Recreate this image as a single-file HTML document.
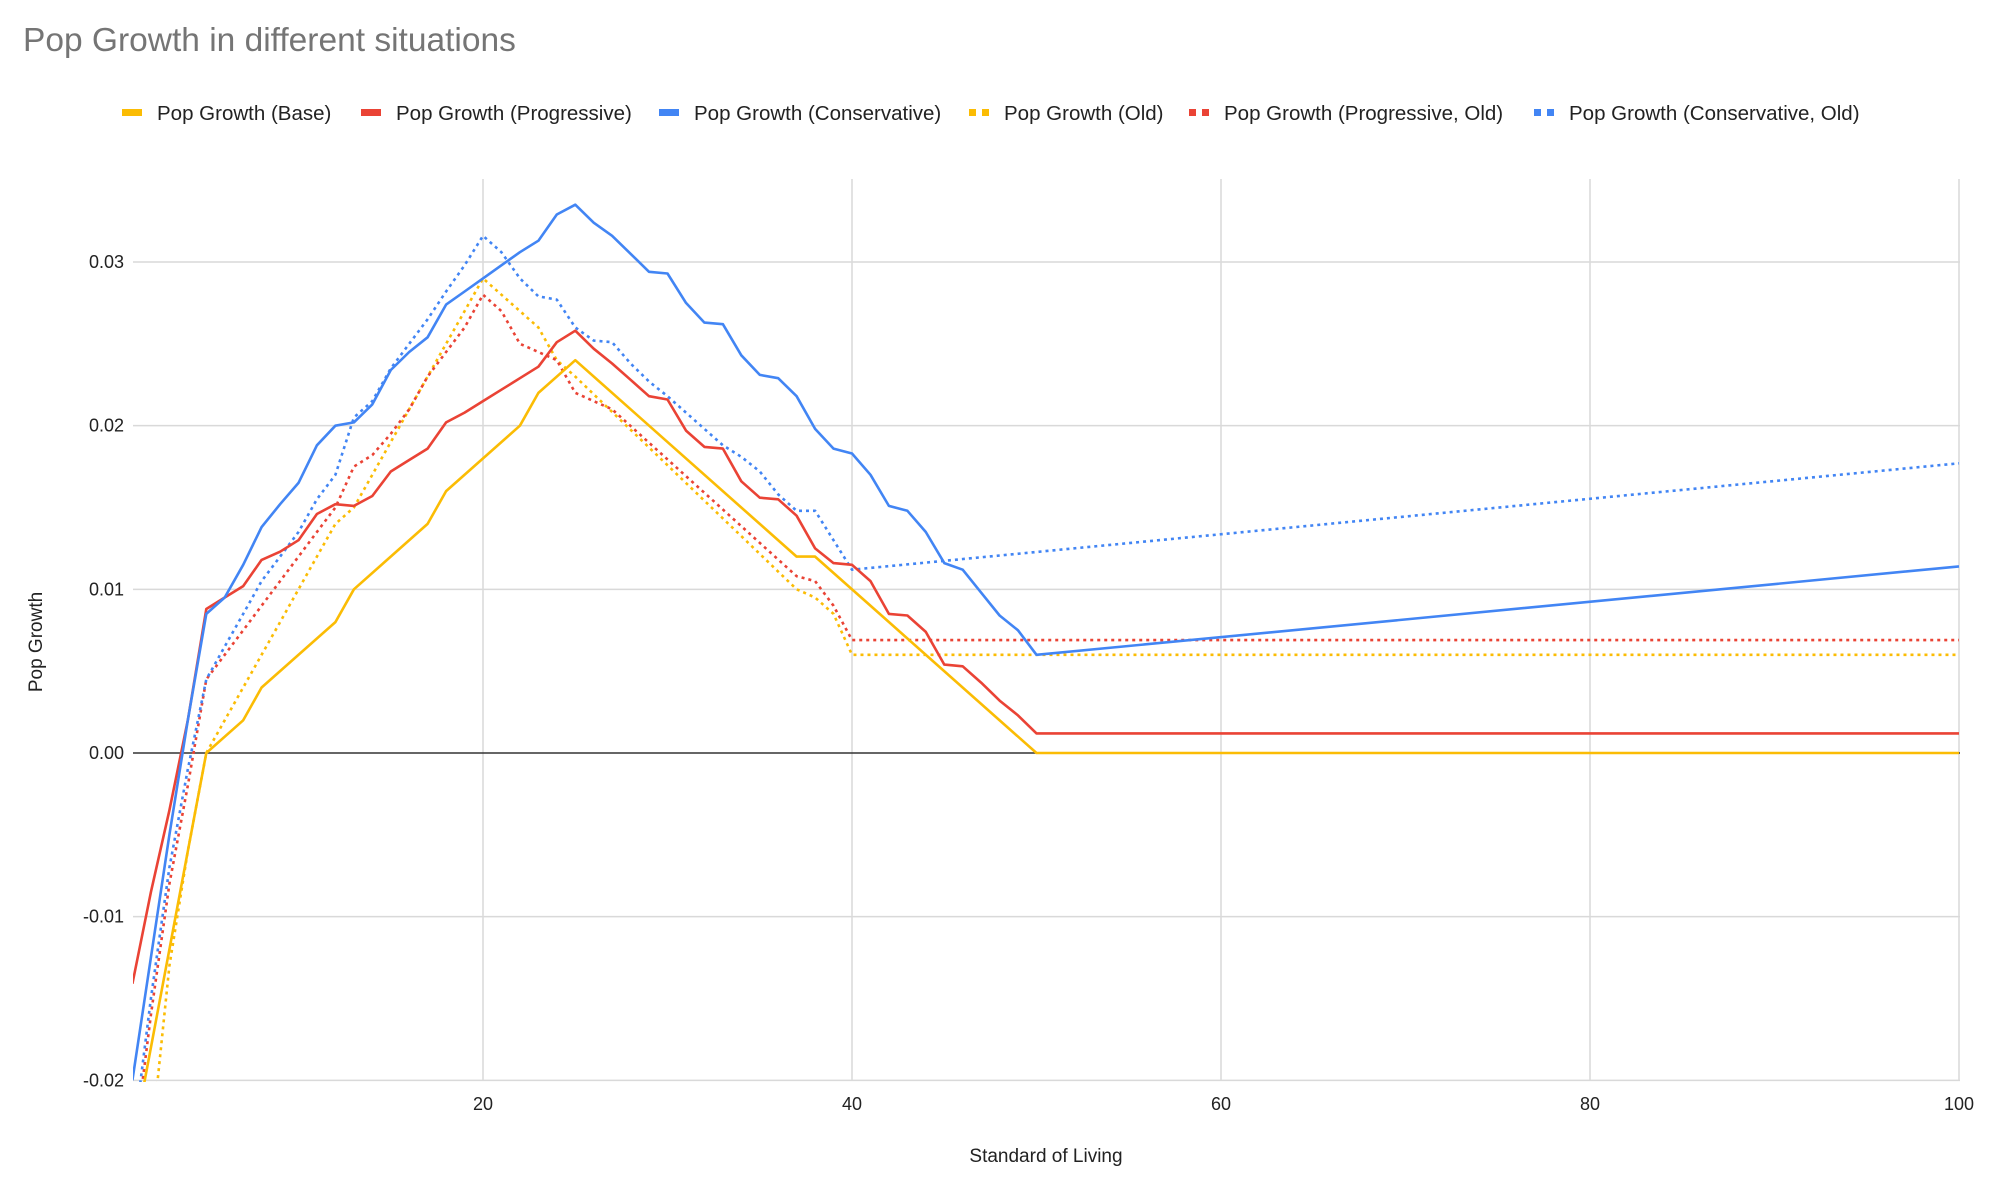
<!DOCTYPE html>
<html><head><meta charset="utf-8"><style>
html,body{margin:0;background:#fff;overflow:hidden;width:1999px;height:1178px;}
svg{display:block;font-family:"Liberation Sans",Arial,sans-serif;}
</style></head><body>
<svg id="chart" width="1999" height="1178" viewBox="0 0 1999 1178">
<rect width="1999" height="1178" fill="#fff"/>
<text x="23" y="51" font-size="33.5" fill="#757575">Pop Growth in different situations</text>
<g id="legend"></g>
<g id="grid"></g>
<g id="axes"></g>
<g id="series"></g>
<text x="1046" y="1162" font-size="19" text-anchor="middle" fill="#222">Standard of Living</text>
<text transform="translate(42,642) rotate(-90)" font-size="19" text-anchor="middle" fill="#222">Pop Growth</text>
<defs><clipPath id="plotclip"><rect x="133" y="170" width="1828" height="912"/></clipPath></defs>
</svg>
<script>
const xTicks=[20,40,60,80,100];
const yTicks=[-0.02,-0.01,0,0.01,0.02,0.03];
const yTickLabels=["-0.02","-0.01","0.00","0.01","0.02","0.03"];
const seriesNames=["Pop Growth (Base)","Pop Growth (Progressive)","Pop Growth (Conservative)","Pop Growth (Old)","Pop Growth (Progressive, Old)","Pop Growth (Conservative, Old)"];
const baseX=[1,2,3,4,5,7,8,12,13,17,18,22,23,25,37,38,50,100];
const baseY=[-0.024,-0.018,-0.012,-0.006,0,0.002,0.004,0.008,0.010,0.014,0.016,0.020,0.022,0.024,0.012,0.012,0,0];
const progX=[1,2,3,4,5,6,7,8,9,10,11,12,13,14,15,16,17,18,19,20,21,22,23,24,25,26,27,28,29,30,31,32,33,34,35,36,37,38,39,40,41,42,43,44,45,46,47,48,49,50,100];
const progY=[-0.0141,-0.0085,-0.0035,0.002,0.0088,0.0095,0.0102,0.0118,0.0123,0.013,0.0146,0.0152,0.0151,0.0157,0.0172,0.0179,0.0186,0.0202,0.0208,0.0215,0.0222,0.0229,0.0236,0.0251,0.0258,0.0247,0.0238,0.0228,0.0218,0.0216,0.0197,0.0187,0.0186,0.0166,0.0156,0.0155,0.0145,0.0125,0.0116,0.0115,0.0105,0.0085,0.0084,0.0074,0.0054,0.0053,0.0043,0.0032,0.0023,0.0012,0.0012];
const consX=[1,2,3,4,5,6,7,8,9,10,11,12,13,14,15,16,17,18,19,20,21,22,23,24,25,26,27,28,29,30,31,32,33,34,35,36,37,38,39,40,41,42,43,44,45,46,47,48,49,50,100];
const consY=[-0.02,-0.0125,-0.005,0.002,0.0085,0.0095,0.0115,0.0138,0.0152,0.0165,0.0188,0.0200,0.0202,0.0213,0.0234,0.0245,0.0254,0.0274,0.0282,0.0290,0.0298,0.0306,0.0313,0.0329,0.0335,0.0324,0.0316,0.0305,0.0294,0.0293,0.0275,0.0263,0.0262,0.0243,0.0231,0.0229,0.0218,0.0198,0.0186,0.0183,0.0170,0.0151,0.0148,0.0135,0.0116,0.0112,0.0098,0.0084,0.0075,0.0060,0.0114];
const oldX=[1,2,3,4,5,6,7,8,9,10,11,12,13,14,15,16,17,18,19,20,21,22,23,24,25,37,38,39,40,100];
const oldY=[-0.03,-0.024,-0.013,-0.006,0,0.002,0.004,0.006,0.008,0.010,0.012,0.014,0.015,0.017,0.019,0.021,0.023,0.025,0.027,0.029,0.028,0.027,0.026,0.024,0.023,0.010,0.0095,0.0085,0.006,0.006];
const progOldX=[1,2,3,4,5,6,7,8,9,10,11,12,13,14,15,16,17,18,19,20,21,22,23,24,25,26,27,37,38,39,40,100];
const progOldY=[-0.025,-0.016,-0.008,-0.002,0.0045,0.006,0.0075,0.009,0.0105,0.012,0.0135,0.015,0.0175,0.0182,0.0195,0.021,0.023,0.0245,0.026,0.028,0.027,0.025,0.0245,0.024,0.022,0.0215,0.021,0.0108,0.0105,0.009,0.0069,0.0069];
const consOldX=[1,2,3,4,5,6,7,8,9,10,11,12,13,14,15,16,17,18,19,20,21,22,23,24,25,26,27,28,29,30,31,32,33,34,35,36,37,38,39,40,100];
const consOldY=[-0.024,-0.015,-0.007,-0.001,0.0045,0.0065,0.0085,0.0105,0.012,0.0135,0.0155,0.017,0.0205,0.0215,0.0235,0.025,0.0265,0.0282,0.0298,0.0316,0.0306,0.029,0.0279,0.0277,0.026,0.0252,0.0251,0.0238,0.0227,0.0218,0.0208,0.0198,0.0188,0.0181,0.0172,0.0158,0.0148,0.0148,0.013,0.0112,0.0177];

const NS="http://www.w3.org/2000/svg";
const X0=483,X1=1959,Y0=753,Y1=262;
function sx(v){return X0+(v-20)*(X1-X0)/80;}
function sy(v){return Y0+(v)*(Y1-Y0)/0.03;}
function mk(tag,attrs,parent){const e=document.createElementNS(NS,tag);for(const k in attrs)e.setAttribute(k,attrs[k]);parent.appendChild(e);return e;}
const grid=document.getElementById('grid'),axes=document.getElementById('axes'),ser=document.getElementById('series'),leg=document.getElementById('legend');
yTicks.forEach((t,i)=>{
  const l=mk('line',{x1:133,x2:1960,y1:sy(t),y2:sy(t),stroke:t===0?'#333':'#d9d9d9','stroke-width':1.5},t===0?axes:grid);
  
  
  const tx=mk('text',{x:124,y:sy(t)+6,'font-size':18,'text-anchor':'end',fill:'#222'},axes);
  tx.textContent=yTickLabels[i];
  
  
});
xTicks.forEach(t=>{
  const l=mk('line',{x1:sx(t),x2:sx(t),y1:179,y2:1080,stroke:'#d9d9d9','stroke-width':1.5},grid);
  
  
  const tx=mk('text',{x:sx(t),y:1110,'font-size':18,'text-anchor':'middle',fill:'#222'},axes);
  tx.textContent=String(t);
  
  
});
const colors=['#fbbc04','#ea4335','#4285f4','#fbbc04','#ea4335','#4285f4'];
const dataX=[baseX,progX,consX,oldX,progOldX,consOldX];
const dataY=[baseY,progY,consY,oldY,progOldY,consOldY];
const slugs=['base','progressive','conservative','old','progressive-old','conservative-old'];
const g=mk('g',{'clip-path':'url(#plotclip)'},ser);
[3,4,5,0,1,2].forEach(i=>{
  const pts=dataX[i].map((x,j)=>sx(x).toFixed(1)+','+sy(dataY[i][j]).toFixed(1)).join(' ');
  const a={points:pts,fill:'none',stroke:colors[i],'stroke-width':2.6,'stroke-linejoin':'round'};
  if(i>=3){a['stroke-dasharray']='3,4';}
  const p=mk('polyline',a,g);
  
  
});
const lx=[122,361,659,969,1189,1534];
seriesNames.forEach((n,i)=>{
  const it=mk('g',{},leg);
  
  
  if(i<3){mk('rect',{x:lx[i],y:109,width:20,height:7,fill:colors[i]},it);}
  else{mk('rect',{x:lx[i],y:109,width:7,height:7,fill:colors[i]},it);mk('rect',{x:lx[i]+13,y:109,width:7,height:7,fill:colors[i]},it);}
  const t=mk('text',{x:lx[i]+35,y:120,'font-size':20.5,fill:'#222'},it);
  t.textContent=n;
});
</script>
</body></html>
